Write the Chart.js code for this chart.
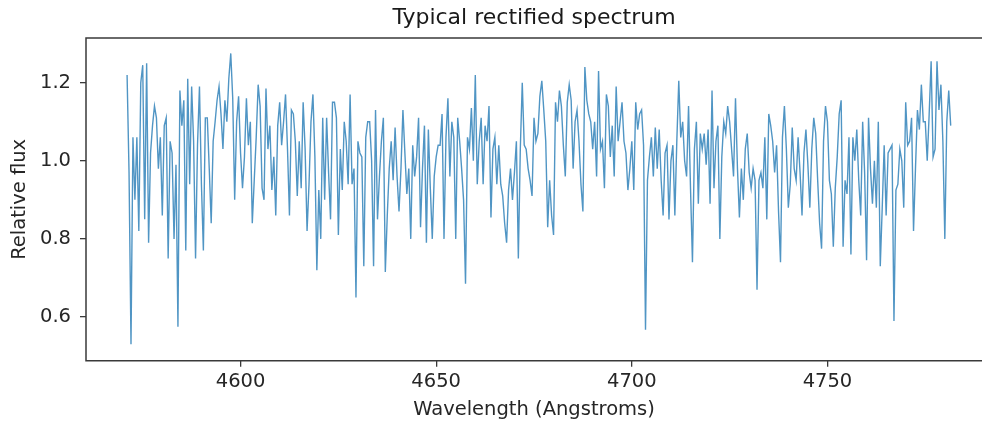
<!DOCTYPE html>
<html>
<head>
<meta charset="utf-8">
<title>Typical rectified spectrum</title>
<script src="https://cdn.jsdelivr.net/npm/chart.js@4.4.1/dist/chart.umd.min.js"></script>
<style>
  html, body { margin: 0; padding: 0; background: #fff; overflow: hidden; }
  #wrap { width: 982px; height: 427px; }
</style>
</head>
<body>
<div id="wrap"><canvas id="spectrumChart"></canvas></div>
<script>
// One array per stretch of the spectrum, named after its first wavelength.
const STEP = 0.5;
const flux4571 = [1.22,0.97,0.53,1.06,0.9,1.06,0.82,1.2,1.245,0.85,1.25,0.79,1.02,1.09,1.14,1.11,0.98,1.06,0.86,1.09,1.11,0.75,1.05,1.02,0.8,0.99,0.575,1.18,1.09,1.155,0.77,1.21,0.94,1.19,1.05,0.75,1.04,1.19,0.94,0.77,1.11,1.11,0.98,0.84,1.05,1.1,1.155,1.19,1.12,1.03,1.155,1.1];
const flux4597 = [1.21,1.275,1.16,0.9,1.1,1.165,1.02,0.93,1.01,1.16,1.04,1.1,0.84,0.95,1.06,1.195,1.14,0.93,0.9,1.185,1.03,1.09,0.925,1.01,0.86,1.09,1.15,1.04,1.1,1.17,1.03,0.86,1.13,1.12,1.05,0.91,1.05,0.93,1.15,1.03,0.82,0.94,1.1,1.17,1.01,0.72,0.925,0.8,1.11,0.9,1.11,0.97,0.85,1.15];
const flux4624 = [1.15,1.11,0.81,1.03,0.925,1.1,1.05,0.94,1.17,0.94,0.98,0.65,1.05,1.02,1.01,0.73,1.06,1.1,1.1,1.0,0.73,1.13,0.85,0.96,1.05,1.11,0.715,0.86,0.98,1.05,0.95,1.085,0.96,0.87,0.98,1.13,1.02,0.915,0.98,0.8,1.04,0.96,1.01,1.11,0.83,0.98,1.09,0.79,1.08,0.93,0.8,0.96,1.01,1.04];
const flux4651 = [1.04,1.12,0.8,1.06,1.16,0.96,1.1,1.06,0.8,1.11,1.05,0.98,0.9,0.685,1.06,1.03,1.135,1.0,1.22,0.94,1.05,1.11,0.94,1.09,1.05,1.14,0.855,1.03,1.06,0.94,1.04,0.94,0.91,0.84,0.79,0.925,0.98,0.9,0.97,1.05,0.75,1.03,1.2,1.04,1.03,0.98,0.95,0.91,1.11,1.05,1.07,1.165,1.205,1.13];
const flux4678 = [1.05,0.83,0.95,0.86,0.81,1.15,1.1,1.18,1.14,1.04,0.96,1.15,1.195,1.155,0.98,1.1,1.13,1.05,0.94,0.87,1.24,1.155,1.12,1.1,1.03,1.1,0.96,1.23,1.03,1.05,0.93,1.17,1.14,1.01,1.09,0.96,1.19,1.05,1.1,1.15,1.05,1.02,0.925,0.98,1.05,0.925,1.15,1.08,1.12,1.13,1.04,0.567,0.95,1.01];
const flux4705 = [1.06,0.96,1.085,0.98,1.08,0.95,0.86,1.02,1.04,0.85,1.0,1.04,0.86,1.05,1.205,1.06,1.1,1.0,0.96,1.14,0.93,0.74,1.03,1.1,0.89,1.07,1.03,1.07,0.99,1.08,0.89,1.18,0.93,1.05,1.09,0.8,1.01,1.1,1.07,1.14,1.1,1.03,0.96,1.16,0.98,0.855,0.98,0.9,1.03,1.07,0.97,0.93,0.98,0.95];
const flux4732 = [0.67,0.95,0.97,0.93,1.06,0.85,1.12,1.09,1.05,0.97,1.04,0.87,0.74,1.06,1.14,1.03,0.88,0.94,1.085,0.98,0.95,1.06,0.97,0.86,1.02,1.08,0.99,0.88,1.03,1.11,1.07,0.95,0.84,0.775,1.05,1.14,1.1,0.95,0.915,0.78,0.93,1.01,1.12,1.155,0.78,0.95,0.915,1.06,0.76,1.06,1.0,1.08,0.95,0.86];
const flux4759 = [1.1,0.97,0.745,1.11,0.98,0.89,1.0,0.88,1.1,0.73,0.88,1.04,0.86,1.02,1.03,1.04,0.59,0.925,0.94,1.03,1.0,0.88,1.15,1.04,1.05,1.11,0.82,0.98,1.13,1.08,1.195,1.1,1.1,1.0,1.12,1.255,1.01,1.03,1.255,1.13,1.195,1.05,0.8,1.1,1.18,1.09];

const segments = [
    [4571, flux4571], [4597, flux4597], [4624, flux4624], [4651, flux4651],
    [4678, flux4678], [4705, flux4705], [4732, flux4732], [4759, flux4759]
];

const xTicks = [4600, 4650, 4700, 4750];
const yTicks = [0.6, 0.8, 1.0, 1.2];

// Turn the segments into {x, y} points for a linear x axis
const spectrum = segments.flatMap(([start, values]) =>
    values.map((v, i) => ({ x: start + i * STEP, y: v }))
);

// Matplotlib style spines: top, left and bottom (the right one is cut off in the source image)
const framePlugin = {
    id: 'frame',
    afterDraw(chart) {
        const { ctx, chartArea: a } = chart;
        ctx.save();
        ctx.strokeStyle = '#3a3a3a';
        ctx.lineWidth = 1.5;
        ctx.beginPath();
        ctx.moveTo(a.right, a.top);
        ctx.lineTo(a.left, a.top);
        ctx.lineTo(a.left, a.bottom);
        ctx.lineTo(a.right, a.bottom);
        ctx.stroke();
        ctx.restore();
    }
};

Chart.defaults.font.family = "'DejaVu Sans', sans-serif";
Chart.defaults.color = '#262626';

const tickFont = { size: 19.5 };

new Chart(document.getElementById('spectrumChart'), {
    type: 'line',
    data: {
        datasets: [{
            label: 'Relative flux',
            data: spectrum,
            borderColor: 'rgba(31, 119, 180, 0.78)',
            borderWidth: 1.4,
            pointRadius: 0,
            tension: 0,
            fill: false
        }]
    },
    options: {
        responsive: true,
        maintainAspectRatio: false,
        animation: false,
        devicePixelRatio: 1,
        layout: { padding: 0 },
        plugins: {
            legend: { display: false },
            tooltip: { enabled: false },
            title: {
                display: true,
                text: 'Typical rectified spectrum',
                fullSize: false,
                font: { size: 22, weight: 'normal' },
                color: '#1a1a1a',
                padding: { top: 5, bottom: 6.6 }
            }
        },
        scales: {
            x: {
                type: 'linear',
                min: 4560.5,
                max: 4789.5,
                afterBuildTicks: scale => { scale.ticks = xTicks.map(v => ({ value: v })); },
                afterFit: scale => { scale.height = 66.3; },
                ticks: {
                    font: tickFont,
                    padding: 4,
                    maxRotation: 0,
                    callback: v => String(v)
                },
                grid: { drawOnChartArea: false, drawTicks: true, tickLength: 6, color: '#3a3a3a', lineWidth: 1.3 },
                border: { display: false },
                title: {
                    display: true,
                    text: 'Wavelength (Angstroms)',
                    font: tickFont,
                    padding: { top: 0, bottom: 5.3 }
                }
            },
            y: {
                type: 'linear',
                min: 0.488,
                max: 1.3145,
                afterBuildTicks: scale => { scale.ticks = yTicks.map(v => ({ value: v })); },
                afterFit: scale => { scale.width = 86; },
                ticks: {
                    font: tickFont,
                    padding: 9,
                    callback: v => v.toFixed(1)
                },
                grid: { drawOnChartArea: false, drawTicks: true, tickLength: 6, color: '#3a3a3a', lineWidth: 1.3 },
                border: { display: false },
                title: {
                    display: true,
                    text: 'Relative flux',
                    font: tickFont,
                    padding: { top: 8.3, bottom: 0 }
                }
            }
        }
    },
    plugins: [framePlugin]
});
</script>
</body>
</html>
